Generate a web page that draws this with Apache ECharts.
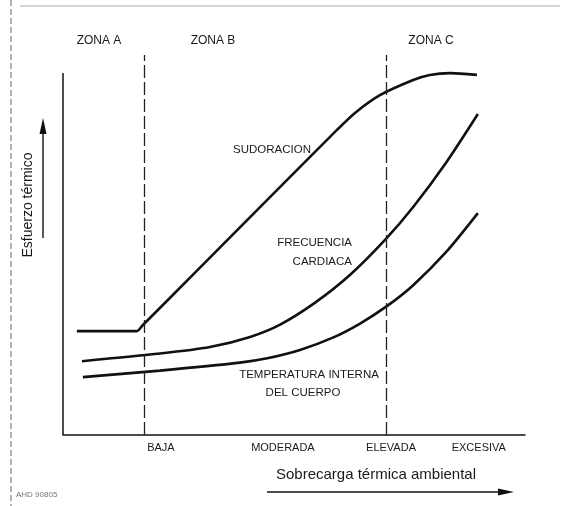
<!DOCTYPE html>
<html>
<head>
<meta charset="utf-8">
<script src="https://cdn.jsdelivr.net/npm/echarts@6/dist/echarts.min.js"></script>
<style>
  html, body { margin: 0; padding: 0; background: #fff; }
  #chart { width: 566px; height: 506px; }
</style>
</head>
<body>
<div id="chart"></div>
<script>
// curve values, x = sobrecarga (0-100), y = esfuerzo (0-105)
const sudoracionX = [3.0, 14.7, 16.0, 17.3, 29.7, 42.6, 59.3, 63.2, 68.6, 75.8, 79.4, 83.8, 89.6];
const sudoracionY = [28.7, 28.7, 28.7, 30.4, 46.3, 62.9, 84.3, 89.0, 93.9, 98.1, 99.5, 100.0, 99.5];

const frecuenciaX = [4.1, 21.0, 31.8, 40.5, 47.0, 54.5, 62.1, 69.7, 75.8, 83.1, 89.8];
const frecuenciaY = [20.4, 22.5, 24.3, 27.1, 30.5, 36.5, 44.2, 53.9, 63.0, 75.6, 88.7];

const temperaturaX = [4.3, 21.0, 38.3, 44.2, 51.3, 58.4, 64.3, 70.1, 75.8, 83.1, 89.8];
const temperaturaY = [16.0, 17.8, 20.0, 21.2, 23.5, 26.9, 30.8, 35.6, 41.4, 50.8, 61.3];

// zone borders and x labels
const zoneEdges = [17.5, 69.9];
const categories = ['BAJA', 'MODERADA', 'ELEVADA', 'EXCESIVA'];
const categoryPos = [21.2, 47.6, 71.0, 90.0];

const zip = (xs, ys) => xs.map((x, i) => [x, ys[i]]);

const chart = echarts.init(document.getElementById('chart'));
const font = '"Liberation Sans", Arial, sans-serif';
const ink = '#111';

function txt(text, x, y, size, align, extra) {
  return Object.assign({
    type: 'text', x: x, y: y,
    style: { text: text, font: size + 'px ' + font, fill: '#1a1a1a', align: align || 'center', verticalAlign: 'middle' }
  }, extra || {});
}

const lineStyle = { color: ink, width: 2.6 };

chart.setOption({
  animation: false,
  grid: { left: 63, right: 41, top: 55, bottom: 71 },
  xAxis: {
    type: 'value', min: 0, max: 100,
    axisLine: { show: true, lineStyle: { color: ink, width: 1.5 } },
    axisTick: { show: false },
    splitLine: { show: false },
    axisLabel: {
      customValues: categoryPos,
      margin: 7,
      fontFamily: font, fontSize: 11, color: '#1a1a1a',
      formatter: (v) => {
        const i = categoryPos.indexOf(v);
        return i >= 0 ? categories[i] : '';
      }
    }
  },
  yAxis: {
    type: 'value', min: 0, max: 105,
    axisLine: { show: false },
    axisTick: { show: false },
    axisLabel: { show: false },
    splitLine: { show: false }
  },
  series: [
    {
      name: 'Sudoración', type: 'line', data: zip(sudoracionX, sudoracionY),
      symbol: 'none', smooth: 0.25, lineStyle: lineStyle,
      markLine: {
        silent: true, symbol: ['none', 'none'], label: { show: false },
        lineStyle: { type: [13, 4], color: '#222', width: 1.3 },
        data: [
          { xAxis: zoneEdges[0] },
          { xAxis: zoneEdges[1] },
          [
            { coord: [0, 0], lineStyle: { type: 'solid', color: ink, width: 1.5 } },
            { coord: [0, 100] }
          ]
        ]
      }
    },
    {
      name: 'Frecuencia cardiaca', type: 'line', data: zip(frecuenciaX, frecuenciaY),
      symbol: 'none', smooth: 0.25, lineStyle: lineStyle
    },
    {
      name: 'Temperatura interna', type: 'line', data: zip(temperaturaX, temperaturaY),
      symbol: 'none', smooth: 0.25, lineStyle: lineStyle
    }
  ],
  graphic: [
    // scan frame
    { type: 'line', shape: { x1: 11, y1: 0, x2: 11, y2: 506 }, style: { stroke: '#666', lineWidth: 1, lineDash: [6, 3] } },
    { type: 'line', shape: { x1: 20, y1: 6, x2: 560, y2: 6 }, style: { stroke: '#aaa', lineWidth: 1 } },
    // zone titles
    txt('ZONA A', 99, 41, 12),
    txt('ZONA B', 213, 41, 12),
    txt('ZONA C', 431, 41, 12),
    // curve labels
    txt('SUDORACION', 233, 150, 11.5, 'left'),
    txt('FRECUENCIA', 352, 243, 11.5, 'right'),
    txt('CARDIACA', 352, 262, 11.5, 'right'),
    txt('TEMPERATURA INTERNA', 309, 375, 11.5),
    txt('DEL CUERPO', 303, 393, 11.5),
    // y axis name with arrow
    txt('Esfuerzo térmico', 28, 205, 14, 'center', { rotation: Math.PI / 2 }),
    { type: 'line', shape: { x1: 43, y1: 238, x2: 43, y2: 130 }, style: { stroke: ink, lineWidth: 1.4 } },
    { type: 'polygon', shape: { points: [[43, 118], [39.5, 134], [46.5, 134]] }, style: { fill: ink } },
    // x axis name with arrow
    txt('Sobrecarga térmica ambiental', 376, 475, 15),
    { type: 'line', shape: { x1: 267, y1: 492, x2: 500, y2: 492 }, style: { stroke: ink, lineWidth: 1.4 } },
    { type: 'polygon', shape: { points: [[514, 492], [498, 488.5], [498, 495.5]] }, style: { fill: ink } },
    // figure code
    txt('AHD 90805', 16, 495, 8, 'left', { style: { text: 'AHD 90805', font: '8px ' + font, fill: '#777', align: 'left', verticalAlign: 'middle' } })
  ]
});
</script>
</body>
</html>
